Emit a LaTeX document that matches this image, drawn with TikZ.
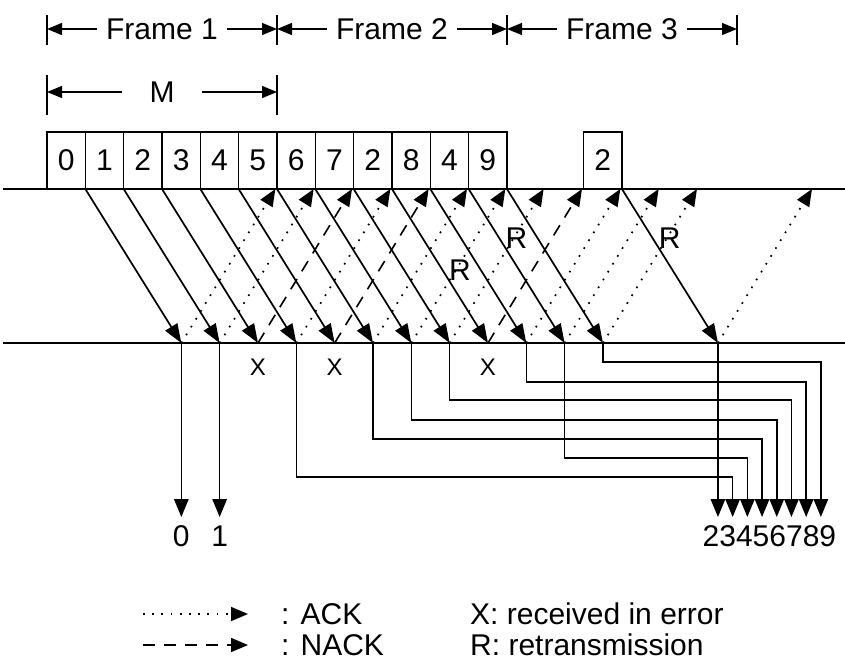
\documentclass[tikz,border=0pt]{standalone}
\usepackage{fontspec}
\setmainfont{Liberation Sans}
\usetikzlibrary{arrows.meta,calc,positioning}
\tikzset{
slotbox/.style={
draw,
line width=1.4pt,
anchor=north west,
minimum width=38.33pt,
minimum height=57pt,
inner sep=0pt,
outer sep=0pt
},
data/.style={
-{Triangle[length=19pt,width=14pt]},
line width=1.7pt
},
ack/.style={
-{Triangle[length=17pt,width=14pt]},
line width=1.7pt,
dash pattern=on 1.7pt off 7.5pt
},
nack/.style={
-{Triangle[length=17pt,width=14pt]},
line width=1.6pt,
dash pattern=on 12pt off 9pt
},
route/.style={
-{Triangle[length=18pt,width=14.5pt]},
line width=1.5pt
},
dimarr/.style={
-{Triangle[length=15pt,width=12pt]},
line width=1.3pt
},
bar/.style={
line width=1.5pt
},
errlab/.style={
font=\fontsize{24}{26}\selectfont
},
retlab/.style={
xshift=17pt
}
}

\begin{document}
\begin{tikzpicture}[x=1pt,y=-1pt,font=\fontsize{30}{32}\selectfont]
\useasboundingbox (0,0) rectangle (845,662);

% frames on the sender side
\foreach \lab [count=\k from 0] in {0,1,2,3,4,5,6,7,2,8,4,9}
\node[slotbox] (b\k) at ({47+38.33*\k},132) {\lab};
\node[slotbox] (b12) at ({47+38.33*14},132) {2};

% sender and receiver time lines
\coordinate (sl) at (3,189);
\coordinate (sr) at (845,189);
\coordinate (rl) at (3,343);
\coordinate (rr) at (845,343);
\draw[line width=1.7pt] (sl) -- (sr);
\draw[line width=1.7pt] (rl) -- (rr);

% data frames
\foreach \k in {0,...,12}{
\coordinate (r\k) at ($(b\k.south east)+(96,154)$);
\coordinate (a\k) at ($(r\k)+(94,-154)$);
\draw[data] (b\k.south east) -- (r\k);
}

% acknowledgements
\foreach \k in {0,1,3,5,6,7,9,10,11,12}
\draw[ack] (r\k) -- (a\k);
\foreach \k in {2,4,8}
\draw[nack] (r\k) -- (a\k);

% errors and retransmissions
\foreach \k in {2,4,8}
\node[errlab] (x\k) at ($(r\k)+(0,24)$) {X};
\node[retlab] (rt8) at ($(b8.south east)!0.53!(r8)$) {R};
\node[retlab] (rt10) at ($(b10.south east)!0.32!(r10)$) {R};
\node[retlab] (rt12) at ($(b12.south east)!0.32!(r12)$) {R};

% delivery to the user
\coordinate (bot) at (0,517);
\foreach \k in {0,1}{
\draw[route] (r\k) -- (r\k |- bot);
\node (n\k) at ($(r\k |- bot)+(0,19)$) {\k};
}
\coordinate (out2) at (r12 |- bot);
\foreach \n in {3,...,9}
\coordinate (out\n) at ($(out2)+({14.7*(\n-2)},0)$);
\draw[route] (r12) -- (out2);
\foreach \k/\n/\lev in {3/3/134,5/5/96,6/6/77,7/7/57,9/8/39,10/4/115,11/9/19}
\draw[route] (r\k) -- ++(0,\lev) -| (out\n);
\node (nout) at ($(out2)!0.5!(out9)+(0,19)$) {23456789};

% frame widths
\coordinate (f0) at (47,29);
\coordinate (f1) at (277,29);
\coordinate (f2) at (507,29);
\coordinate (f3) at (737,29);
\foreach \i in {0,...,3}
\draw[bar] ($(f\i)+(0,-14)$) -- ($(f\i)+(0,16)$);
\foreach \i/\j [count=\c] in {0/1,1/2,2/3}{
\node[inner xsep=9pt] (t\c) at ($(f\i)!0.5!(f\j)$) {Frame \c};
\draw[dimarr] (t\c.west) -- (f\i);
\draw[dimarr] (t\c.east) -- (f\j);
}
\coordinate (m0) at (47,92);
\coordinate (m1) at (277,92);
\foreach \i in {0,1}
\draw[bar] ($(m\i)+(0,-17)$) -- ($(m\i)+(0,23)$);
\node[minimum width=80pt] (mm) at ($(m0)!0.5!(m1)$) {M};
\draw[dimarr] (mm.west) -- (m0);
\draw[dimarr] (mm.east) -- (m1);

% legend
\coordinate (ka) at (143,614);
\coordinate (kb) at (248,614);
\draw[ack] (ka) -- (kb);
\node[anchor=west,inner sep=0pt] (kt) at (281,614) {: ACK};
\coordinate (na) at (143,645);
\coordinate (nb) at (248,645);
\draw[nack] (na) -- (nb);
\node[anchor=west,inner sep=0pt] (nt) at (281,645) {: NACK};
\node[anchor=west,inner sep=0pt] (xt) at (470,614) {X: received in error};
\node[anchor=west,inner sep=0pt] (rt) at (470,645) {R: retransmission};
\end{tikzpicture}
\end{document}
